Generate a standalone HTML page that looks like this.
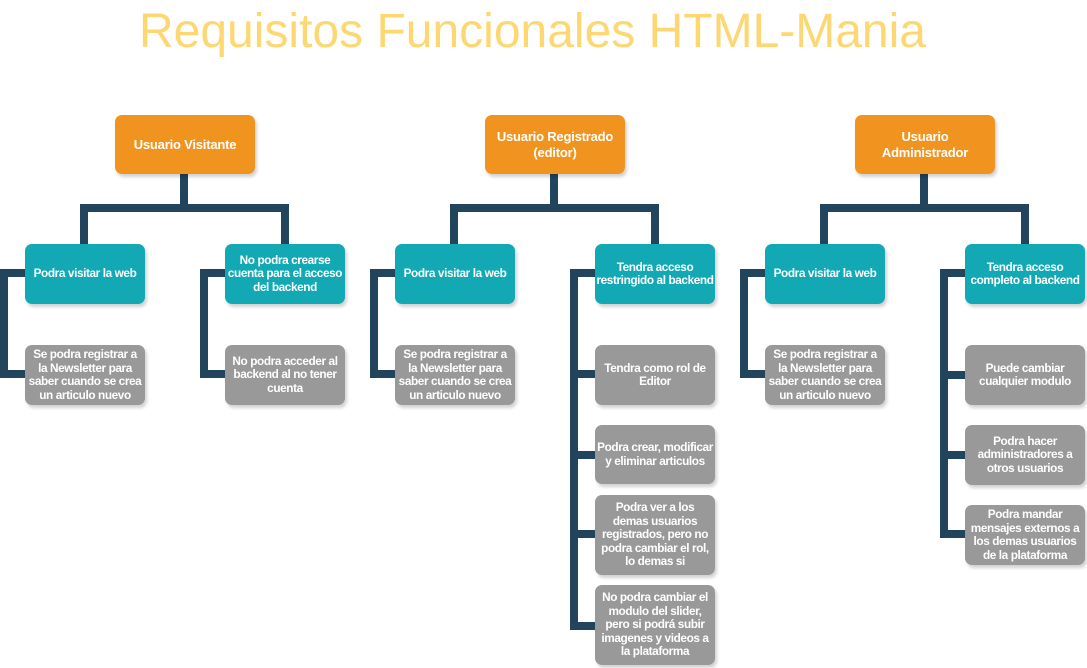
<!DOCTYPE html>
<html><head><meta charset="utf-8"><style>
body{margin:0;width:1087px;height:668px;background:#fff;position:relative;overflow:hidden;font-family:"Liberation Sans",Arial,sans-serif}
.t{position:absolute;left:-11px;width:1087px;top:5px;text-align:center;font-size:48px;color:#fdd772;line-height:54px}
.b{position:absolute;display:flex;align-items:center;justify-content:center;text-align:center;color:#fff;font-weight:bold;border-radius:7px;box-shadow:2px 3px 3px rgba(0,0,0,0.18);font-size:11.8px;letter-spacing:-0.4px;line-height:13.5px;box-sizing:border-box;padding:0}
.o{background:#f0941f;font-size:13px;letter-spacing:-0.2px;line-height:16px;width:140px;height:59px;top:115px}
.c{background:#12a9b5;width:120px;height:60px;top:244px}
.g{background:#999;width:120px}
svg{position:absolute;left:0;top:0}
</style></head><body>
<div class="t">Requisitos Funcionales HTML-Mania</div>
<svg width="1087" height="668" fill="none" stroke="#23445d" stroke-width="8">
<path d="M184 174V208M84 244V208H285V244"/>
<path d="M554 174V208M454 244V208H655V244"/>
<path d="M924 174V208M824 244V208H1025V244"/>
<path d="M25 273H4V374H25"/>
<path d="M225 273H204V374H225"/>
<path d="M395 273H374V374H395"/>
<path d="M765 273H744V374H765"/>
<path d="M595 273H574V626H595M574 374H595M574 455H595M574 534H595"/>
<path d="M965 273H944V534H965M944 375H965M944 455H965"/>
</svg>
<div class="b o" style="left:115px">Usuario Visitante</div>
<div class="b o" style="left:485px">Usuario Registrado<br>(editor)</div>
<div class="b o" style="left:855px">Usuario<br>Administrador</div>
<div class="b c" style="left:25px">Podra visitar la web</div>
<div class="b c" style="left:225px">No podra crearse<br>cuenta para el acceso<br>del backend</div>
<div class="b c" style="left:395px">Podra visitar la web</div>
<div class="b c" style="left:595px">Tendra acceso<br>restringido al backend</div>
<div class="b c" style="left:765px">Podra visitar la web</div>
<div class="b c" style="left:965px">Tendra acceso<br>completo al backend</div>
<div class="b g" style="left:25px;top:345px;height:60px">Se podra registrar a<br>la Newsletter para<br>saber cuando se crea<br>un articulo nuevo</div>
<div class="b g" style="left:225px;top:345px;height:60px">No podra acceder al<br>backend al no tener<br>cuenta</div>
<div class="b g" style="left:395px;top:345px;height:60px">Se podra registrar a<br>la Newsletter para<br>saber cuando se crea<br>un articulo nuevo</div>
<div class="b g" style="left:765px;top:345px;height:60px">Se podra registrar a<br>la Newsletter para<br>saber cuando se crea<br>un articulo nuevo</div>
<div class="b g" style="left:595px;top:345px;height:60px">Tendra como rol de<br>Editor</div>
<div class="b g" style="left:595px;top:425px;height:59px">Podra crear, modificar<br>y eliminar articulos</div>
<div class="b g" style="left:595px;top:495px;height:80px">Podra ver a los<br>demas usuarios<br>registrados, pero no<br>podra cambiar el rol,<br>lo demas si</div>
<div class="b g" style="left:595px;top:585px;height:80px">No podra cambiar el<br>modulo del slider,<br>pero si podrá subir<br>imagenes y videos a<br>la plataforma</div>
<div class="b g" style="left:965px;top:345px;height:60px">Puede cambiar<br>cualquier modulo</div>
<div class="b g" style="left:965px;top:425px;height:60px">Podra hacer<br>administradores a<br>otros usuarios</div>
<div class="b g" style="left:965px;top:505px;height:60px">Podra mandar<br>mensajes externos a<br>los demas usuarios<br>de la plataforma</div>
</body></html>
